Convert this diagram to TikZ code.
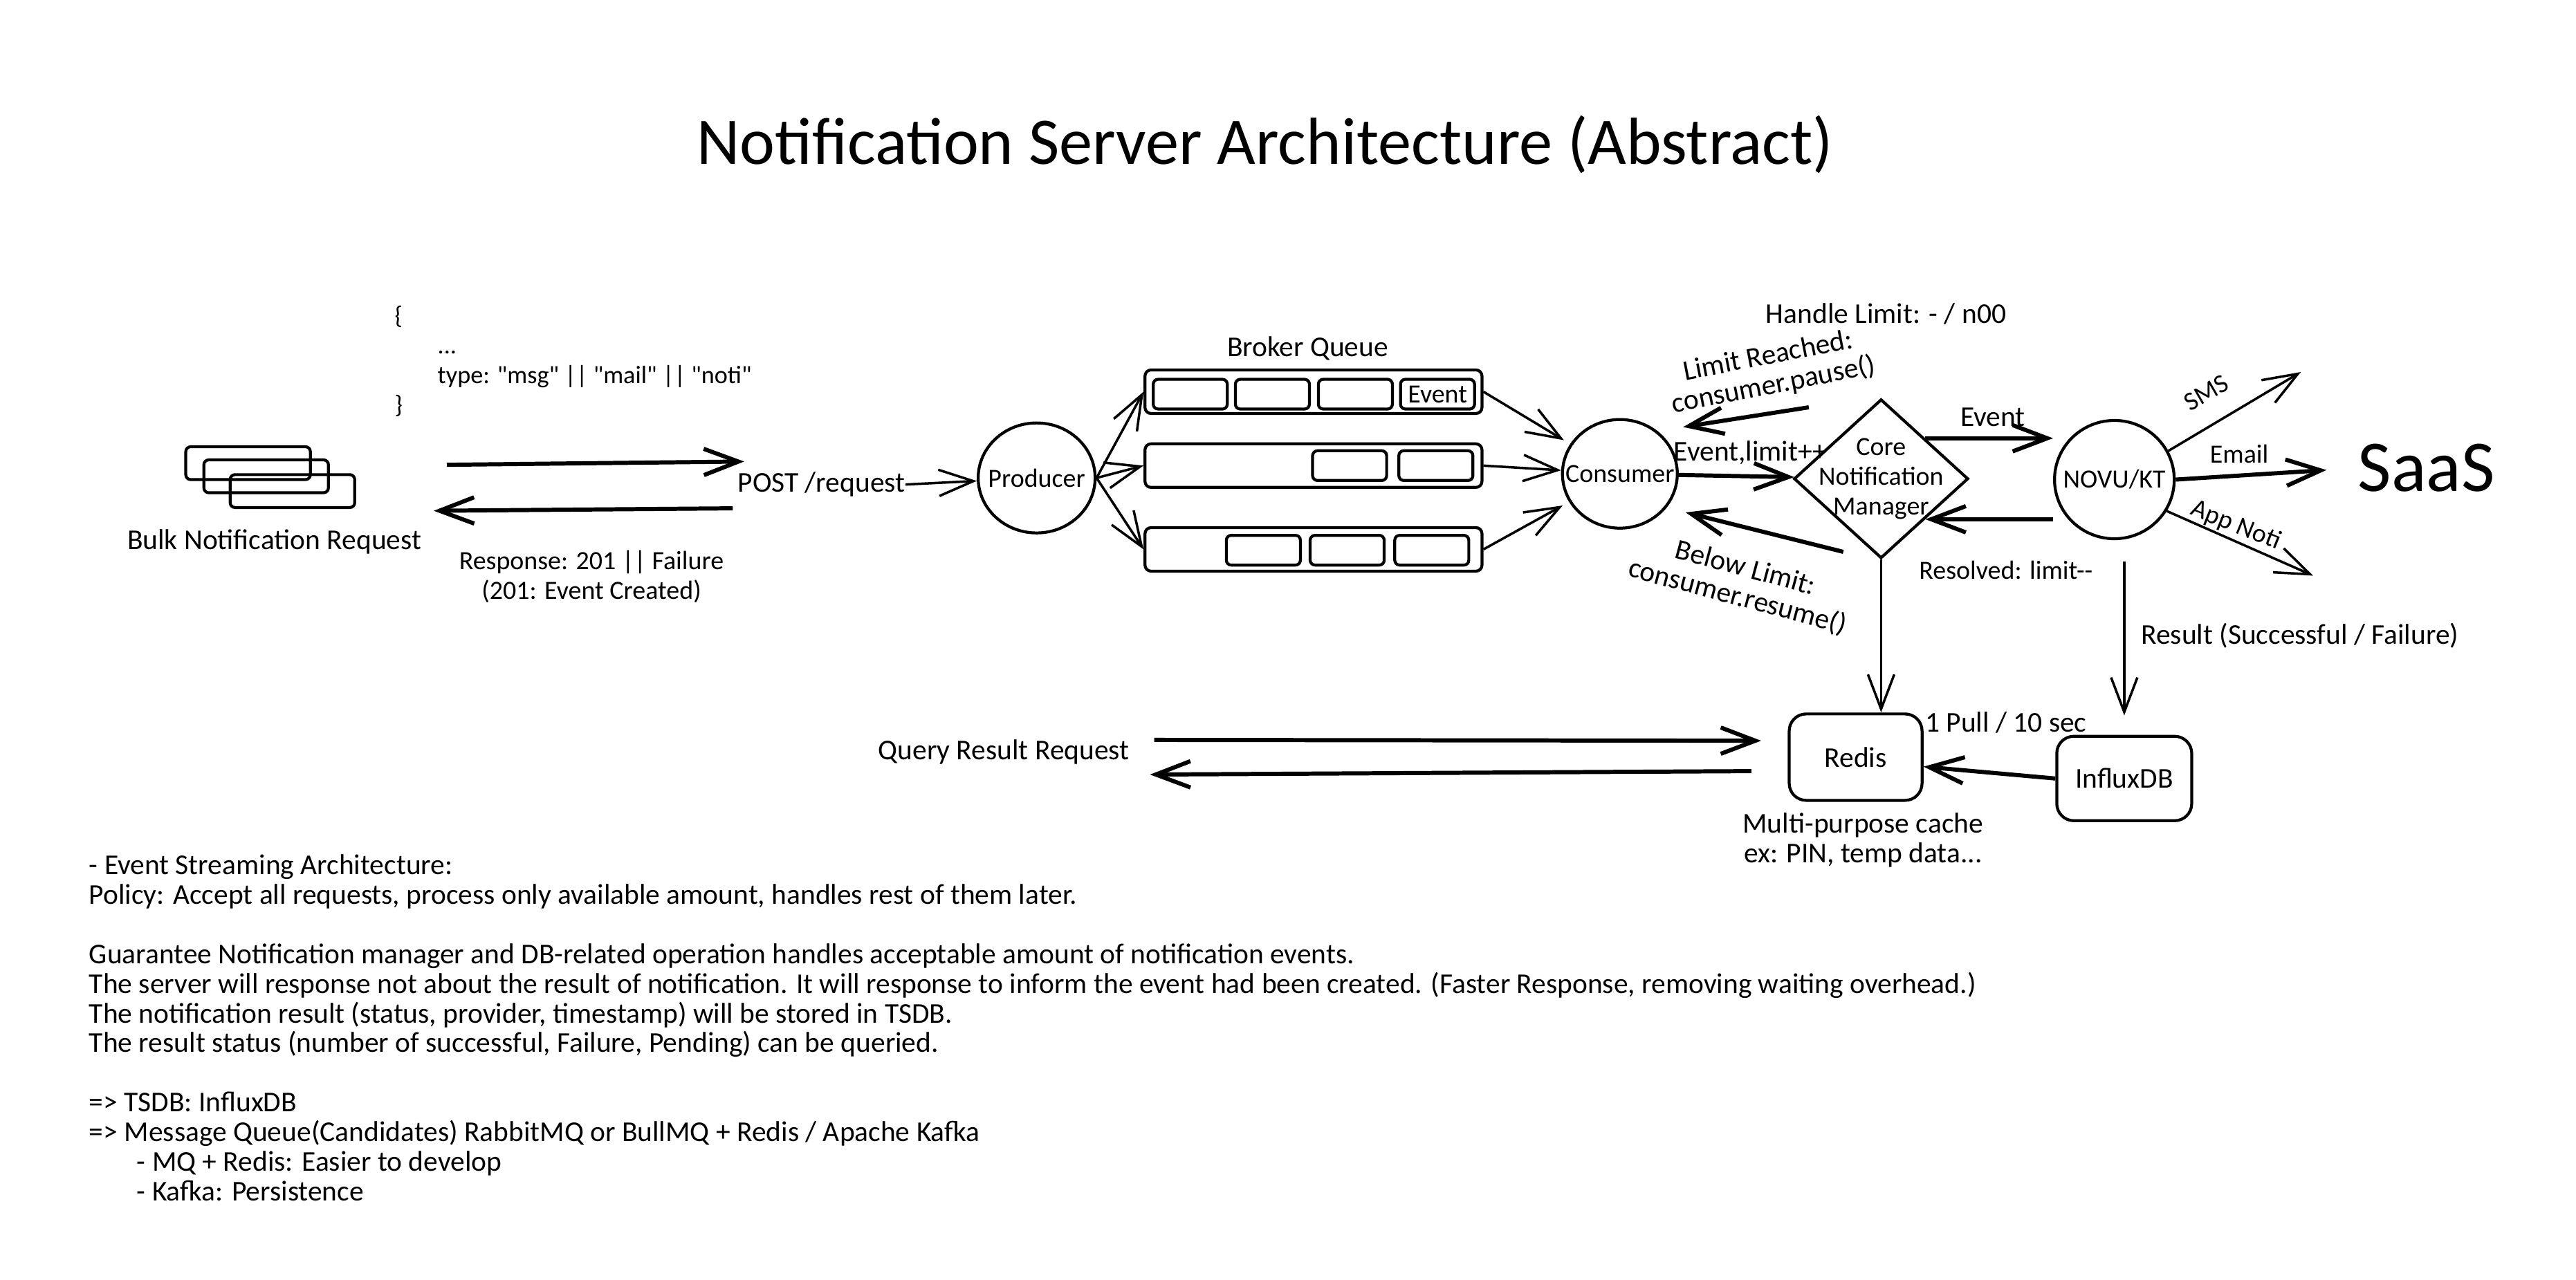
\documentclass[tikz,border=0pt]{standalone}
\usepackage{fontspec}
\setmainfont{Carlito}[Ligatures=TeXOff]
\usetikzlibrary{arrows.meta,positioning,shapes.geometric}

\begin{document}
\begin{tikzpicture}[x=0.02375cm,y=-0.02375cm,
  every node/.style={inner sep=0pt,font=\fontsize{11.8}{12.2}\selectfont},
  small/.style={font=\fontsize{10.8}{12.2}\selectfont},
  shp/.style={draw,line width=1.2pt},
  orb/.style={shp,ellipse},
  lane/.style={shp,rounded corners=2.5pt,minimum width=4.87cm,minimum height=0.63cm},
  slot/.style={shp,small,rounded corners=2pt,minimum width=1.07cm,minimum height=0.43cm},
  store/.style={shp,rounded corners=7pt},
  paper/.style={shp,rounded corners=2pt,minimum width=1.8cm,minimum height=0.475cm},
  arr/.style={line width=1pt,-{Straight Barb[length=5mm,width=3.8mm]}},
  barr/.style={line width=1.7pt,-{Straight Barb[length=5mm,width=3.8mm]}}]
  \fill[white] (0,0) rectangle (1568,779);
  \useasboundingbox (0,0) rectangle (1568,779);

  \node[font=\fontsize{27.4}{30}\selectfont] (title) at (770,88) {Notification Server Architecture (Abstract)};

  % client side
  \node[anchor=west,align=left,font=\fontsize{10.3}{12.2}\selectfont] (payload) at (240,220) {\{\\\hspace*{0.62cm}...\\\hspace*{0.62cm}type: "msg" || "mail" || "noti"\\\}};
  \node[paper] (bulk1) at (151,282) {};
  \node[paper] (bulk2) at (162,290) {};
  \node[paper] (bulk3) at (178,299) {};
  \node (bulk) at (167,330) {Bulk Notification Request};
  \coordinate (reqfrom) at (272,283);
  \coordinate (reqto) at (453,281);
  \coordinate (respfrom) at (446,309.5);
  \coordinate (respto) at (264,311);
  \draw[barr] (reqfrom) -- (reqto);
  \draw[barr] (respfrom) -- (respto);
  \node[small,align=center] (resp) at (360,351) {Response: 201 || Failure\\(201: Event Created)};
  \node (post) at (500,295) {POST /request};

  % producer and broker
  \node[orb,minimum width=1.69cm,minimum height=1.59cm,label={[small]center:Producer}] (prod) at (631,291) {};
  \draw[arr] (post.east) -- (prod);
  \node (broker) at (796,212) {Broker Queue};
  \node[lane] (q1) at (799.5,238.5) {};
  \node[lane] (q2) at (799.5,283.5) {};
  \node[lane] (q3) at (799.5,334.5) {};
  \node[slot] (s11) at (724.5,240) {};
  \node[slot] (s12) at (774.5,240) {};
  \node[slot] (s13) at (825,240) {};
  \node[slot] (s14) at (875,240) {Event};
  \node[slot] (s21) at (821.5,283.5) {};
  \node[slot] (s22) at (874,283.5) {};
  \node[slot] (s31) at (769,335) {};
  \node[slot] (s32) at (820,335) {};
  \node[slot] (s33) at (871.5,335) {};
  \draw[arr] (prod.east) -- (q1.west);
  \draw[arr] (prod.east) -- (q2.west);
  \draw[arr] (prod.east) -- (q3.west);

  % consumer and manager
  \node[orb,minimum width=1.66cm,minimum height=1.57cm,label={[small]center:Consumer}] (cons) at (986,288.5) {};
  \draw[arr,shorten >=3pt] (q1.east) -- (cons);
  \draw[arr] (q2.east) -- (cons);
  \draw[arr,shorten >=3pt] (q3.east) -- (cons);
  \node[shp,diamond,minimum width=2.52cm,minimum height=2.3cm,label={[small,align=center]center:Core\\Notification\\Manager}] (cnm) at (1145,291.5) {};
  \draw[barr] (cons) -- node[pos=0.62,above=4pt] {Event,limit++} (cnm);
  \node (limit) at (1148,191) {Handle Limit: - / n00};
  \node[rotate=11,align=center] (pauselbl) at (1078,226) {Limit Reached:\\consumer.pause()};
  \coordinate (pausefrom) at (1101,248);
  \coordinate (pauseto) at (1024.5,260);
  \draw[barr] (pausefrom) -- (pauseto);
  \node[rotate=-15,align=center] (resumelbl) at (1060,355) {Below Limit:\\consumer.resume()};
  \coordinate (resumefrom) at (1122,336);
  \coordinate (resumeto) at (1026,312);
  \draw[barr] (resumefrom) -- (resumeto);

  % delivery
  \node[orb,minimum width=1.73cm,minimum height=1.71cm,label={[small]center:NOVU/KT}] (novu) at (1287,292) {};
  \draw[barr] (cnm.north east) -- (cnm.north east -| novu.west);
  \node (eventlbl) at (1213,254) {Event};
  \draw[barr] (cnm.south east -| novu.west) -- (cnm.south east);
  \node[small] (resolved) at (1221,347) {Resolved: limit--};
  \node[font=\fontsize{30}{32}\selectfont] (saas) at (1477,285) {SaaS};
  \coordinate (smsto) at (1400.5,226.5);
  \coordinate (appto) at (1408,350.5);
  \draw[arr] (novu.28) -- (smsto);
  \draw[barr,shorten >=0.45cm] (novu.east) -- (saas.west);
  \draw[arr] (novu.-31) -- (appto);
  \node[small,rotate=30] (smslbl) at (1343,239) {SMS};
  \node[small] (emaillbl) at (1363,276.6) {Email};
  \node[small,rotate=-22] (applbl) at (1361,320) {App Noti};

  % storage
  \node[store,minimum width=1.92cm,minimum height=1.25cm] (redis) at (1129.5,461) {Redis};
  \node[store,minimum width=1.95cm,minimum height=1.22cm] (influx) at (1293,474) {InfluxDB};
  \draw[arr] (cnm.south) -- (cnm.south |- redis.north);
  \draw[arr,shorten <=0.31cm,shorten >=0.28cm] (novu.south -| influx.north) -- (influx.north);
  \node[anchor=west] (result) at (1303,387) {Result (Successful / Failure)};
  \draw[barr] (influx.west) -- (redis.-8);
  \node (pull) at (1221,440) {1 Pull / 10 sec};
  \node[align=center] (cache) at (1134,511.5) {Multi-purpose cache\\ex: PIN, temp data...};
  \node (query) at (611,458) {Query Result Request};
  \coordinate (qryfrom) at (702.6,450.5);
  \coordinate (qryto) at (1072,451);
  \coordinate (ansfrom) at (1066,469.5);
  \coordinate (ansto) at (700,471.6);
  \draw[barr] (qryfrom) -- (qryto);
  \draw[barr] (ansfrom) -- (ansto);

  % notes
  \node[anchor=north west,align=left] (notes) at (54,520) {- Event Streaming Architecture:\\
    Policy: Accept all requests, process only available amount, handles rest of them later.\\[12.2pt]
    Guarantee Notification manager and DB-related operation handles acceptable amount of notification events.\\
    The server will response not about the result of notification. It will response to inform the event had been created. (Faster Response, removing waiting overhead.)\\
    The notification result (status, provider, timestamp) will be stored in TSDB.\\
    The result status (number of successful, Failure, Pending) can be queried.\\[12.2pt]
    => TSDB: InfluxDB\\
    => Message Queue(Candidates) RabbitMQ or BullMQ + Redis / Apache Kafka\\
    \hspace*{0.69cm}- MQ + Redis: Easier to develop\\
    \hspace*{0.69cm}- Kafka: Persistence};
\end{tikzpicture}
\end{document}
